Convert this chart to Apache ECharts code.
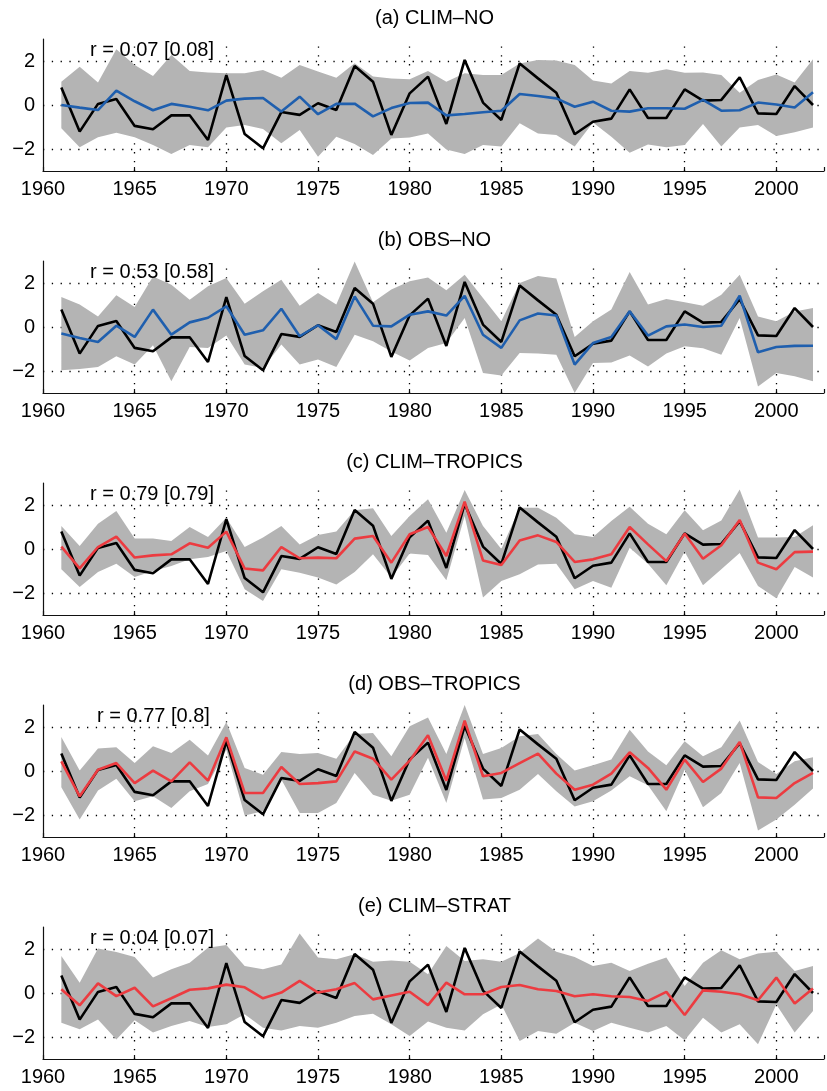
<!DOCTYPE html>
<html>
<head>
<meta charset="utf-8">
<script src="https://cdn.jsdelivr.net/npm/echarts@6/dist/echarts.min.js"></script>
<style>
  html, body { margin: 0; padding: 0; background: #fff; }
  #chart { width: 827px; height: 1091px; }
</style>
</head>
<body>
<div id="chart"></div>
<script>
const years = [1961, 1962, 1963, 1964, 1965, 1966, 1967, 1968, 1969, 1970,
  1971, 1972, 1973, 1974, 1975, 1976, 1977, 1978, 1979, 1980,
  1981, 1982, 1983, 1984, 1985, 1986, 1987, 1988, 1989, 1990,
  1991, 1992, 1993, 1994, 1995, 1996, 1997, 1998, 1999, 2000,
  2001, 2002]

// observed index (black line, same in every panel)
const obs = [0.80, -1.21, 0.05, 0.27, -0.95, -1.10, -0.47, -0.47, -1.59, 1.36,
  -1.32, -1.97, -0.32, -0.45, 0.08, -0.23, 1.77, 1.06, -1.36, 0.53,
  1.29, -0.86, 2.05, 0.11, -0.68, 1.89, 1.21, 0.56, -1.33, -0.76,
  -0.62, 0.71, -0.59, -0.59, 0.71, 0.20, 0.23, 1.26, -0.38, -0.41,
  0.86, 0.00]

// (a) CLIM-NO
const climNo = [0.00, -0.12, -0.23, 0.65, 0.17, -0.24, 0.05, -0.08, -0.24, 0.20,
  0.29, 0.32, -0.30, 0.38, -0.42, 0.05, 0.06, -0.52, -0.14, 0.09,
  0.11, -0.47, -0.41, -0.33, -0.26, 0.50, 0.41, 0.30, -0.08, 0.15,
  -0.26, -0.30, -0.15, -0.15, -0.17, 0.23, -0.26, -0.24, 0.11, 0.02,
  -0.11, 0.58]
const climNoHi = [1.06, 1.74, 1.02, 2.53, 1.82, 1.32, 2.27, 1.55, 1.48, 1.44,
  1.44, 1.59, 1.24, 1.82, 1.52, 1.24, 1.90, 1.29, 1.21, 1.17,
  1.55, 1.06, 1.44, 1.36, 1.36, 1.89, 2.05, 2.02, 1.82, 1.11,
  0.98, 1.55, 1.47, 1.62, 1.47, 1.48, 1.36, 0.56, 1.14, 1.39,
  1.02, 2.08]
const climNoLo = [-1.06, -1.92, -1.47, -1.26, -1.47, -1.82, -2.23, -1.82, -1.92, -1.02,
  -0.91, -1.09, -1.74, -1.14, -2.35, -1.44, -1.77, -2.27, -1.52, -1.48,
  -1.30, -2.02, -2.23, -1.82, -1.89, -0.83, -1.29, -1.36, -1.89, -0.80,
  -1.44, -2.17, -1.79, -1.92, -1.82, -0.86, -1.89, -1.02, -0.91, -1.41,
  -1.24, -1.02]

// (b) OBS-NO
const obsNo = [-0.30, -0.50, -0.68, 0.06, -0.45, 0.79, -0.35, 0.21, 0.42, 0.94,
  -0.35, -0.15, 0.83, -0.42, 0.08, -0.55, 1.39, 0.06, 0.03, 0.56,
  0.71, 0.52, 1.42, -0.35, -0.95, 0.30, 0.61, 0.52, -1.71, -0.73,
  -0.45, 0.71, -0.39, 0.03, 0.11, 0.00, 0.06, 1.42, -1.15, -0.91,
  -0.86, -0.85]
const obsNoHi = [1.36, 1.02, 0.48, 1.44, 0.91, 2.30, 1.92, 1.24, 1.85, 2.23,
  1.06, 1.62, 2.15, 0.97, 1.55, 1.02, 2.98, 1.12, 1.70, 2.08,
  2.25, 1.67, 2.38, 1.32, 0.26, 2.00, 2.32, 2.20, -0.45, 0.26,
  0.79, 2.50, 1.02, 1.27, 1.12, 0.97, 1.47, 2.38, 0.48, 0.26,
  0.71, 0.86]
const obsNoLo = [-1.97, -1.91, -1.82, -1.33, -1.71, -0.83, -2.47, -0.91, -0.95, -0.39,
  -1.71, -1.86, -0.80, -1.71, -1.48, -1.82, -0.35, -0.65, -1.11, -1.52,
  -0.95, -0.73, 0.41, -2.09, -2.21, -1.18, -1.21, -1.26, -3.00, -1.64,
  -1.61, -1.30, -1.79, -1.21, -0.88, -0.97, -1.26, 0.41, -2.70, -2.09,
  -2.24, -2.47]

// (c) CLIM-TROPICS
const climTrop = [0.11, -0.88, 0.09, 0.56, -0.39, -0.29, -0.24, 0.26, 0.06, 0.79,
  -0.89, -0.97, 0.09, -0.42, -0.39, -0.42, 0.47, 0.59, -0.62, 0.67,
  1.00, -0.32, 2.15, -0.52, -0.73, 0.39, 0.62, 0.32, -0.59, -0.47,
  -0.24, 1.00, 0.21, -0.55, 0.70, -0.44, 0.17, 1.32, -0.62, -0.92,
  -0.14, -0.12]
const climTropHi = [1.05, 0.14, 1.15, 1.73, 0.48, 0.48, 0.36, 1.00, 0.55, 1.42,
  0.09, 0.52, 1.05, 0.21, 0.64, 0.79, 1.76, 1.85, 0.59, 1.50,
  2.26, 0.74, 2.68, 1.05, 0.00, 1.88, 1.88, 1.42, 0.67, 0.55,
  1.27, 1.92, 1.15, 0.67, 1.76, 0.85, 1.30, 2.71, 0.52, 0.52,
  0.55, 1.08]
const climTropLo = [-0.92, -1.73, -1.05, -0.67, -1.27, -1.00, -0.77, -0.47, -0.36, -0.09,
  -1.83, -2.36, -0.92, -1.08, -1.30, -1.61, -1.05, -0.24, -1.30, -0.21,
  -0.27, -1.42, 1.50, -2.21, -1.45, -1.15, -0.70, -0.67, -1.83, -1.45,
  -1.76, 0.06, -0.67, -1.65, -0.12, -1.65, -0.92, -0.18, -1.68, -2.24,
  -0.82, -1.30]

// (d) OBS-TROPICS
const obsTrop = [0.44, -1.15, 0.06, 0.36, -0.55, 0.02, -0.47, 0.39, -0.44, 1.53,
  -1.00, -1.00, 0.18, -0.59, -0.55, -0.47, 0.89, 0.56, -0.39, 0.47,
  1.62, -0.44, 2.29, -0.24, -0.09, 0.36, 0.79, -0.12, -0.85, -0.62,
  -0.12, 0.85, 0.14, -0.85, 0.52, -0.50, 0.11, 1.32, -1.20, -1.23,
  -0.55, -0.09]
const obsTropHi = [1.55, 0.02, 1.02, 1.08, 0.36, 1.12, 0.82, 1.42, 0.71, 2.23,
  0.14, -0.17, 0.86, 0.77, 0.82, 0.56, 1.68, 1.73, 0.67, 2.03,
  2.43, 0.77, 3.00, 0.77, 1.05, 1.58, 1.68, 0.77, 0.02, 0.26,
  0.52, 1.88, 0.89, 0.26, 1.35, 0.67, 1.08, 2.29, 0.41, -0.14,
  0.44, 0.62]
const obsTropLo = [-0.74, -2.21, -0.89, -0.35, -1.38, -1.15, -1.68, -0.92, -0.59, 0.97,
  -2.02, -1.83, -0.39, -1.91, -1.91, -1.45, -0.09, -1.08, -1.35, -1.08,
  0.60, -1.45, 1.50, -1.30, -1.23, -0.85, -0.14, -0.92, -1.61, -1.38,
  -0.89, -0.24, -0.65, -1.83, 0.06, -1.65, -1.00, 0.36, -2.71, -2.21,
  -1.53, -0.80]

// (e) CLIM-STRAT
const climStrat = [0.17, -0.56, 0.44, -0.14, 0.24, -0.61, -0.24, 0.15, 0.21, 0.38,
  0.26, -0.24, 0.02, 0.55, 0.02, 0.17, 0.45, -0.29, -0.11, 0.06,
  -0.55, 0.47, -0.06, -0.06, 0.27, 0.36, 0.17, 0.09, -0.15, -0.06,
  -0.15, -0.18, -0.36, 0.05, -1.00, 0.12, 0.06, -0.06, -0.33, 0.70,
  -0.48, 0.21]
const climStratHi = [1.68, 0.47, 2.02, 1.86, 1.64, 0.70, 1.08, 1.38, 2.06, 2.18,
  1.23, 1.08, 1.30, 2.71, 1.61, 1.53, 1.76, 1.42, 1.48, 1.42,
  0.85, 2.14, 1.45, 1.53, 1.42, 1.82, 2.48, 1.88, 1.64, 1.23,
  1.38, 1.00, 1.33, 1.61, 0.32, 1.38, 1.94, 1.53, 1.79, 1.88,
  1.00, 1.23]
const climStratLo = [-1.35, -1.65, -1.20, -2.11, -1.24, -1.80, -1.50, -1.27, -1.55, -1.42,
  -0.97, -1.58, -1.70, -1.50, -1.58, -1.35, -1.05, -0.94, -1.42, -1.95,
  -1.30, -1.58, -1.70, -0.97, -0.52, -2.18, -1.73, -1.85, -1.35, -1.73,
  -1.35, -1.58, -1.80, -1.50, -2.15, -1.12, -1.80, -1.42, -2.33, -0.52,
  -1.80, -0.82]

// dotted grid positions
const gridYears = [1965, 1970, 1975, 1980, 1985, 1990, 1995, 2000]
const gridValues = [-2, 0, 2]

const fontFamily = "'Liberation Sans', Arial, sans-serif"
const blue = '#1f5fae'
const red = '#ec3b40'
const bandColor = '#b4b4b4'

const panels = [
  { title: '(a) CLIM–NO', r: 'r = 0.07 [0.08]', rx: 90, model: climNo, hi: climNoHi, lo: climNoLo, color: blue },
  { title: '(b) OBS–NO', r: 'r = 0.53 [0.58]', rx: 90, model: obsNo, hi: obsNoHi, lo: obsNoLo, color: blue },
  { title: '(c) CLIM–TROPICS', r: 'r = 0.79 [0.79]', rx: 90, model: climTrop, hi: climTropHi, lo: climTropLo, color: red },
  { title: '(d) OBS–TROPICS', r: 'r = 0.77 [0.8]', rx: 97, model: obsTrop, hi: obsTropHi, lo: obsTropLo, color: red },
  { title: '(e) CLIM–STRAT', r: 'r = 0.04 [0.07]', rx: 90, model: climStrat, hi: climStratHi, lo: climStratLo, color: red },
]

const gridLeft = 43
const gridWidth = 783
const gridHeight = 132
const firstTop = 39
const panelStep = 222

const grid = []
const xAxis = []
const yAxis = []
const series = []
const graphic = []

const dotted = { color: '#000', width: 1.3, type: [1.3, 7.5] }

panels.forEach((p, i) => {
  const top = firstTop + i * panelStep
  grid.push({ left: gridLeft, top, width: gridWidth, height: gridHeight })

  xAxis.push({
    type: 'value',
    gridIndex: i,
    min: 1960,
    max: 2002.6,
    interval: 5,
    axisLine: { onZero: false, lineStyle: { color: '#111', width: 1.2 } },
    axisTick: { inside: true, length: 4, lineStyle: { color: '#111', width: 1.2 } },
    axisLabel: {
      color: '#000', fontSize: 20, fontFamily, margin: 8,
      formatter: v => (v % 5 === 0 ? String(v) : ''),
    },
    splitLine: { show: false },
  })

  yAxis.push({
    type: 'value',
    gridIndex: i,
    min: -3,
    max: 3,
    interval: 1,
    axisLine: { show: true, onZero: false, lineStyle: { color: '#111', width: 1.2 } },
    axisTick: { show: false },
    axisLabel: {
      color: '#000', fontSize: 20, fontFamily, margin: 8,
      formatter: v => (v % 2 === 0 ? (v < 0 ? '\u2212' + Math.abs(v) : String(v)) : ''),
    },
    splitLine: { show: false },
  })

  // grey spread band as one polygon
  series.push({
    type: 'custom',
    xAxisIndex: i,
    yAxisIndex: i,
    silent: true,
    z: 1,
    data: years.map((y, k) => [y, p.lo[k], p.hi[k]]),
    encode: { x: 0, y: [1, 2] },
    renderItem: (params, api) => {
      if (params.dataIndex !== 0) return null
      const pts = years.map((y, k) => api.coord([y, p.hi[k]]))
      for (let k = years.length - 1; k >= 0; k--) pts.push(api.coord([years[k], p.lo[k]]))
      return { type: 'polygon', shape: { points: pts }, style: { fill: bandColor } }
    },
    markLine: {
      silent: true,
      z: 1,
      symbol: ['none', 'none'],
      label: { show: false },
      lineStyle: dotted,
      data: gridValues.map(v => ({ yAxis: v })).concat(gridYears.map(y => ({ xAxis: y }))),
    },
  })

  series.push({
    type: 'line',
    xAxisIndex: i,
    yAxisIndex: i,
    silent: true,
    z: 3,
    symbol: 'none',
    data: years.map((y, k) => [y, obs[k]]),
    lineStyle: { color: '#000', width: 2.6 },
  })

  series.push({
    type: 'line',
    xAxisIndex: i,
    yAxisIndex: i,
    silent: true,
    z: 4,
    symbol: 'none',
    data: years.map((y, k) => [y, p.model[k]]),
    lineStyle: { color: p.color, width: 2.6 },
  })

  graphic.push({
    type: 'text',
    x: gridLeft + gridWidth / 2,
    y: top - 21,
    z: 10,
    style: {
      text: p.title, fill: '#000', font: '20px ' + fontFamily,
      align: 'center', verticalAlign: 'middle', textAlign: 'center', textVerticalAlign: 'middle',
    },
  })
  graphic.push({
    type: 'text',
    x: p.rx,
    y: top + 11,
    z: 10,
    style: {
      text: p.r, fill: '#000', font: '20px ' + fontFamily,
      align: 'left', verticalAlign: 'middle', textAlign: 'left', textVerticalAlign: 'middle',
    },
  })
})

const chart = echarts.init(document.getElementById('chart'))
chart.setOption({
  animation: false,
  backgroundColor: '#fff',
  grid,
  xAxis,
  yAxis,
  series,
  graphic,
})
</script>
</body>
</html>
